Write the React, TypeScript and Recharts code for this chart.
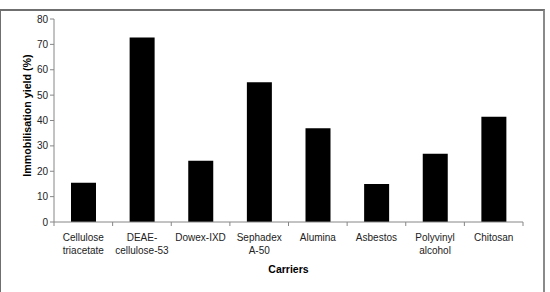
import React from 'react';
import { BarChart, Bar, XAxis, YAxis, Label } from 'recharts';

const carriers = [
    'Cellulose\ntriacetate',
    'DEAE-\ncellulose-53',
    'Dowex-IXD',
    'Sephadex\nA-50',
    'Alumina',
    'Asbestos',
    'Polyvinyl\nalcohol',
    'Chitosan',
];
const yields = [15.5, 72.7, 24.1, 55.1, 36.9, 15.0, 26.9, 41.5];
const yTicks = [0, 10, 20, 30, 40, 50, 60, 70, 80];

const data = carriers.map((name, i) => ({ name, yield: yields[i] }));

const FONT = '"Liberation Sans", Arial, sans-serif';
const AXIS = '#868686';

// category label plus the Excel-style tick marks sitting between categories
const CarrierTick = (props: any) => {
    const { x, y, payload, width, visibleTicksCount, index } = props;
    const band = width / visibleTicksCount;
    const lines = String(payload.value).split('\n');
    return (
        <g>
            <line x1={x - band / 2} x2={x - band / 2} y1={y} y2={y + 4} stroke={AXIS} />
            {index === visibleTicksCount - 1 && (
                <line x1={x + band / 2} x2={x + band / 2} y1={y} y2={y + 4} stroke={AXIS} />
            )}
            <text x={x} y={y} textAnchor="middle" fontFamily={FONT} fontSize={10} fill="#222">
                {lines.map((l, i) => (
                    <tspan key={i} x={x} dy={i === 0 ? 18.5 : 13}>{l}</tspan>
                ))}
            </text>
        </g>
    );
};

// rotated y-axis title, placed from the axis viewBox
const YTitle = (props: any) => {
    const { viewBox } = props;
    const cx = viewBox.x + 31;
    const cy = viewBox.y + viewBox.height / 2 - 5;
    return (
        <text
            x={cx}
            y={cy}
            transform={`rotate(-90 ${cx} ${cy})`}
            textAnchor="middle"
            fontFamily={FONT}
            fontSize={10.7}
            fontWeight="bold"
            fill="#000"
        >
            Immobilisation yield (%)
        </text>
    );
};

export default function App() {
    return (
        <div style={{ position: 'absolute', left: 0, top: 0, width: 550, height: 292, background: '#fff' }}>
            <div
                style={{
                    position: 'absolute', left: 0, top: 9, width: 545, height: 283,
                    borderLeft: '1px solid #6f6f6f', borderTop: '2px solid #6f6f6f',
                    borderRight: '2px solid #8a8a8a', boxSizing: 'border-box',
                }}
            />
            <div style={{ position: 'absolute', left: 0, top: 0 }}>
                <BarChart
                    width={550}
                    height={292}
                    data={data}
                    margin={{ top: 19, right: 27, left: 0, bottom: 8 }}
                    barSize={25}
                >
                    <XAxis
                        dataKey="name"
                        height={62}
                        stroke={AXIS}
                        tickLine={false}
                        tickSize={0}
                        tickMargin={0}
                        interval={0}
                        tick={<CarrierTick />}
                    >
                        <Label
                            value="Carriers"
                            position="insideBottom"
                            offset={11}
                            style={{ fontFamily: FONT, fontSize: 10.5, fontWeight: 'bold', fill: '#000' }}
                        />
                    </XAxis>
                    <YAxis
                        width={54}
                        domain={[0, 80]}
                        ticks={yTicks}
                        stroke={AXIS}
                        tickSize={4}
                        tickMargin={2}
                        tick={{ fontFamily: FONT, fontSize: 10, fill: '#222' }}
                    >
                        <Label content={<YTitle />} />
                    </YAxis>
                    <Bar dataKey="yield" fill="#000" isAnimationActive={false} />
                </BarChart>
            </div>
        </div>
    );
}
